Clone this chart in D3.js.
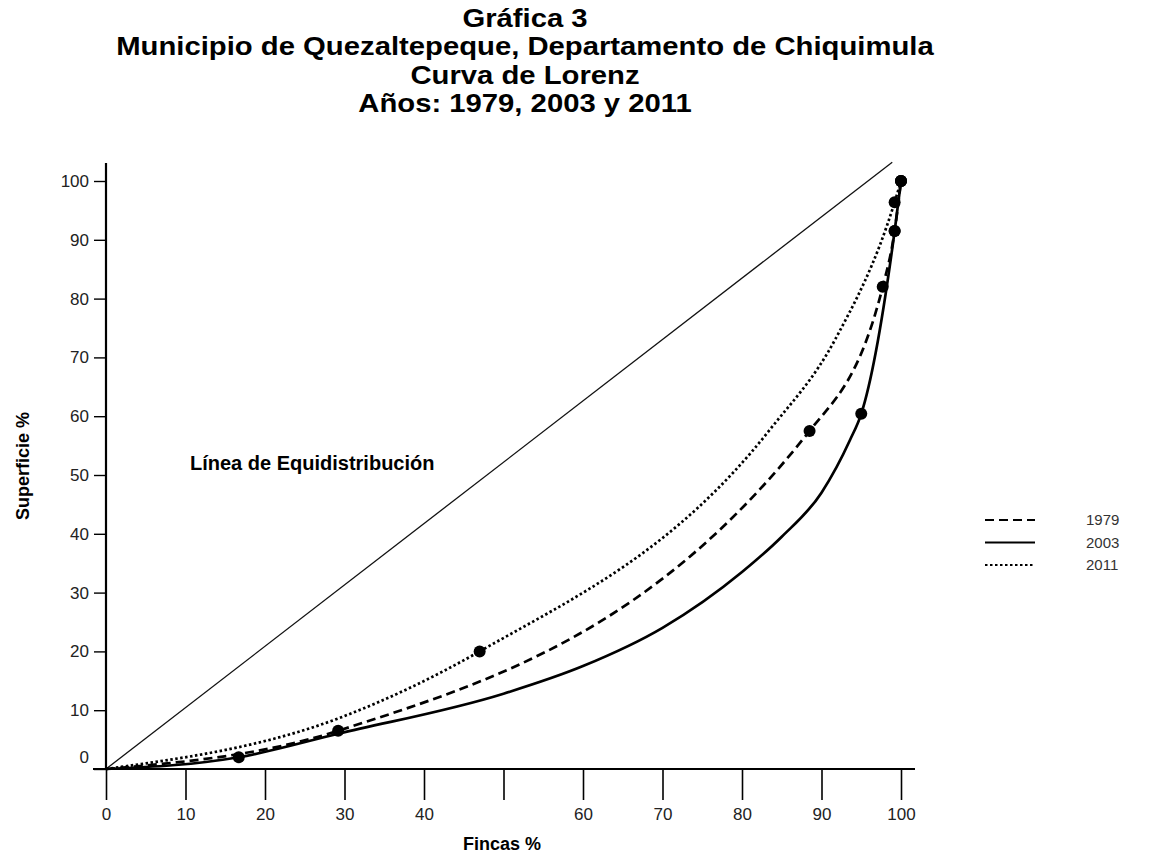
<!DOCTYPE html>
<html>
<head>
<meta charset="utf-8">
<script src="https://cdn.jsdelivr.net/npm/d3@7"></script>
<style>
  body { margin: 0; background: #fff; }
  svg { display: block; font-family: "Liberation Sans", Arial, sans-serif; }
</style>
</head>
<body>
<svg id="chart" width="1158" height="854"></svg>
<script>
// Curva de Lorenz - Quezaltepeque, Chiquimula
const titleLines = [
  "Gráfica 3",
  "Municipio de Quezaltepeque, Departamento de Chiquimula",
  "Curva de Lorenz",
  "Años: 1979, 2003 y 2011"
];

const years = ["1979", "2003", "2011"];

// marked points: cumulative % of farms (x) and % of surface (y)
const fincas1979 = [29.2, 88.5, 97.7, 99.2, 100];
const superficie1979 = [6.5, 57.5, 82.0, 91.5, 100];

const fincas2003 = [16.7, 95.0, 99.2, 100];
const superficie2003 = [2.0, 60.4, 91.5, 100];

const fincas2011 = [47.0, 99.2, 100];
const superficie2011 = [20.0, 96.4, 100];

// positions (markers included)
const curve1979X = [0, 29.2, 88.5, 97.7, 99.2, 100];
const curve1979Y = [0, 6.5, 57.5, 82.0, 91.5, 100];

const curve2003X = [0, 16.7, 29.2, 50, 60, 70, 80, 85, 90, 93.6, 95.0, 99.2, 100];
const curve2003Y = [0, 2.0, 6.0, 12.8, 17.5, 24, 33.5, 39.5, 47, 56, 60.4, 91.5, 100];

const curve2011X = [0, 29.4, 47.0, 83.5, 91.7, 99.2, 100];
const curve2011Y = [0, 8.7, 20.0, 57.7, 73, 96.4, 100];

const equiX = [0, 98.9];
const equiY = [0, 103.2];

const xTicks = [0, 10, 20, 30, 40, 50, 60, 70, 80, 90, 100];
const xTickLabels = ["0", "10", "20", "30", "40", "", "60", "70", "80", "90", "100"];
const yTicks = [0, 10, 20, 30, 40, 50, 60, 70, 80, 90, 100];

const svg = d3.select("#chart");

const x = d3.scaleLinear().domain([0, 100]).range([106, 901]);
const y = d3.scaleLinear().domain([0, 100]).range([769, 181]);

// titles (slightly widened like the scanned original)
svg.append("g")
  .selectAll("text")
  .data(titleLines)
  .enter()
  .append("text")
  .attr("x", 525)
  .attr("y", (d, i) => 27 + i * 28.4)
  .attr("text-anchor", "middle")
  .style("font-size", "25px")
  .style("font-weight", "bold")
  .text(d => d)
  .each(function () {
    const w = this.getComputedTextLength();
    d3.select(this).attr("textLength", w * 1.17).attr("lengthAdjust", "spacingAndGlyphs");
  });

// axes
const xAxis = svg.append("g")
  .attr("transform", `translate(0,${y(0)})`)
  .call(d3.axisBottom(x).tickValues(xTicks).tickSize(31).tickPadding(8)
    .tickFormat((d, i) => xTickLabels[i]));
xAxis.select(".domain").attr("d", `M93,0H915`).attr("stroke-width", 2.2);
xAxis.selectAll(".tick line").attr("stroke-width", 1.6);
xAxis.selectAll(".tick text").style("font-size", "17px").attr("fill", "#222");

const yAxis = svg.append("g")
  .attr("transform", `translate(${x(0)},0)`)
  .call(d3.axisLeft(y).tickValues(yTicks).tickSize(12).tickPadding(5));
yAxis.select(".domain").attr("d", `M0,163V${y(0)}`).attr("stroke-width", 2.2);
yAxis.selectAll(".tick line").attr("stroke-width", 1.4);
yAxis.selectAll(".tick text").style("font-size", "17px").attr("fill", "#222")
  .attr("dy", d => d === 0 ? "-0.4em" : "0.32em");

svg.append("text")
  .attr("transform", "translate(29,466) rotate(-90)")
  .attr("text-anchor", "middle")
  .style("font-size", "18px")
  .style("font-weight", "bold")
  .text("Superficie %");

svg.append("text")
  .attr("x", 502)
  .attr("y", 850)
  .attr("text-anchor", "middle")
  .style("font-size", "18px")
  .style("font-weight", "bold")
  .text("Fincas %");

// equidistribution line
svg.append("line")
  .attr("x1", x(equiX[0])).attr("y1", y(equiY[0]))
  .attr("x2", x(equiX[1])).attr("y2", y(equiY[1]))
  .attr("stroke", "#111").attr("stroke-width", 1.3);

svg.append("text")
  .attr("x", 190)
  .attr("y", 470)
  .style("font-size", "20px")
  .style("font-weight", "bold")
  .text("Línea de Equidistribución");

const series = [
  { year: years[0], cx: curve1979X, cy: curve1979Y, mx: fincas1979, my: superficie1979, dash: "9,5" },
  { year: years[1], cx: curve2003X, cy: curve2003Y, mx: fincas2003, my: superficie2003, dash: null },
  { year: years[2], cx: curve2011X, cy: curve2011Y, mx: fincas2011, my: superficie2011, dash: "2.5,2.5" }
];

const line = d3.line()
  .x(d => x(d[0]))
  .y(d => y(d[1]))
  .curve(d3.curveMonotoneX);

series.forEach(s => {
  const pts = s.cx.map((v, i) => [v, s.cy[i]]);
  svg.append("path")
    .attr("d", line(pts))
    .attr("fill", "none")
    .attr("stroke", "#000")
    .attr("stroke-width", 2.7)
    .attr("stroke-dasharray", s.dash);
  svg.append("g")
    .selectAll("circle")
    .data(s.mx.map((v, i) => [v, s.my[i]]))
    .enter()
    .append("circle")
    .attr("cx", d => x(d[0]))
    .attr("cy", d => y(d[1]))
    .attr("r", 6)
    .attr("fill", "#000");
});

// legend
const legend = svg.append("g");
series.forEach((s, i) => {
  const ly = 520 + i * 22.5;
  legend.append("line")
    .attr("x1", 985).attr("x2", 1035)
    .attr("y1", ly).attr("y2", ly)
    .attr("stroke", "#000")
    .attr("stroke-width", 2.2)
    .attr("stroke-dasharray", s.dash);
  legend.append("text")
    .attr("x", 1086)
    .attr("y", ly + 5)
    .style("font-size", "15px")
    .attr("fill", "#333")
    .text(s.year);
});
</script>
</body>
</html>
